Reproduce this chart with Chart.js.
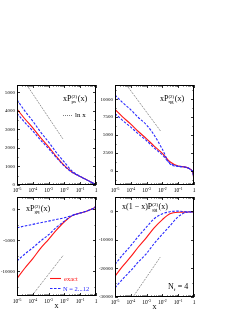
<!DOCTYPE html>
<html>
<head>
<meta charset="utf-8">
<script src="https://cdn.jsdelivr.net/npm/chart.js@4.4.1/dist/chart.umd.min.js"></script>
<style>
  html, body { margin: 0; padding: 0; background: #fff; }
  body { width: 241px; height: 312px; position: relative; overflow: hidden; }
  canvas { position: absolute; }
</style>
</head>
<body>
<canvas id="ps" width="100" height="116" style="left:0;top:80px"></canvas>
<canvas id="qg" width="100" height="116" style="left:98px;top:80px"></canvas>
<canvas id="gq" width="100" height="120" style="left:0;top:192px"></canvas>
<canvas id="gg" width="100" height="120" style="left:98px;top:192px"></canvas>
<script>
// x values shared by all curves
const xGrid = [1e-5, 3e-5, 1e-4, 3e-4, 1e-3, 3e-3, 0.01, 0.03, 0.1, 0.3, 0.6, 0.9, 1];

// xP_ps
const psExact = [4100, 3590, 3080, 2570, 2060, 1550, 1045, 700, 460, 250, 120, 30, 0];
const psUpper = [4600, 4020, 3450, 2880, 2320, 1770, 1230, 760, 470, 250, 120, 30, 0];
const psLower = [3870, 3395, 2920, 2445, 1970, 1495, 1025, 690, 455, 245, 118, 30, 0];
const psLnAt = [5e-5, 8e-3];
const psLn = [5300, 2490];
const psTicks = [0, 1000, 2000, 3000, 4000, 5000];

// xP_qg
const qgExact = [8570, 7540, 6520, 5490, 4470, 3450, 2420, 1250, 650, 500, 180, -550, -1950];
const qgUpper = [10600, 9550, 8520, 7450, 6400, 5000, 3000, 950, 600, 480, 180, -550, -1950];
const qgLower = [8000, 7050, 6100, 5150, 4200, 3200, 2200, 1050, 630, 490, 180, -550, -1950];
const qgLnAt = [5.6e-5, 7.6e-3];
const qgLn = [11950, 5560];
const qgTicks = [0, 2500, 5000, 7500, 10000];

// xP_gq
const gqExact = [-11180, -9550, -7950, -6350, -4850, -3400, -2000, -1050, -600, -220, 100, 400, 600];
const gqUpper = [-2960, -2700, -2430, -2160, -1900, -1630, -1350, -1000, -600, -220, 100, 400, 600];
const gqLower = [-8330, -7250, -6200, -5150, -4100, -2950, -1900, -1000, -600, -220, 100, 400, 600];
const gqLnAt = [8.5e-5, 8.5e-3];
const gqLn = [-14000, -7420];
const gqTicks = [-10000, -5000, 0];

// x(1-x)P_gg
const ggExact = [-22700, -19300, -15900, -12500, -9100, -5800, -2900, -900, -350, -300, -250, -250, -250];
const ggUpper = [-18600, -15320, -12040, -8760, -5480, -2600, -900, -150, 50, -150, -200, -250, -250];
const ggLower = [-26780, -23770, -20760, -17750, -14740, -11300, -8000, -5100, -1900, -400, -250, -250, -250];
const ggLnAt = [1.5e-4, 7.6e-3];
const ggLn = [-29700, -15900];
const ggTicks = [-30000, -20000, -10000, 0];

const SERIF = '"Liberation Serif", "DejaVu Serif", serif';
const RED = 'rgb(255,20,20)';
const BLUE = 'rgb(40,40,255)';

function line(xs, ys, color, dash, width) {
  return {
    data: xs.map((x, i) => ({ x: x, y: ys[i] })),
    borderColor: color,
    borderDash: dash,
    borderWidth: width,
    pointRadius: 0,
    fill: false,
    cubicInterpolationMode: 'monotone'
  };
}

// text with sub/superscript: xP_sub^sup(x)
function richLabel(ctx, x, y, size, pre, sub, sup, post) {
  ctx.font = size + 'px ' + SERIF;
  ctx.textAlign = 'left';
  ctx.fillText(pre, x, y);
  x += ctx.measureText(pre).width;
  const s = size * 0.62;
  ctx.font = s + 'px ' + SERIF;
  let w = 0;
  if (sup) { ctx.fillText(sup, x, y - size * 0.42); w = ctx.measureText(sup).width; }
  if (sub) { ctx.fillText(sub, x, y + size * 0.22); w = Math.max(w, ctx.measureText(sub).width); }
  x += w + 0.5;
  ctx.font = size + 'px ' + SERIF;
  if (post) ctx.fillText(post, x, y);
}

const framePlugin = {
  id: 'frame',
  afterDatasetsDraw(chart, args, o) {
    const ctx = chart.ctx, a = chart.chartArea;
    const xs = chart.scales.x, ys = chart.scales.y;
    ctx.save();
    ctx.strokeStyle = '#000';
    ctx.lineWidth = 1;
    ctx.strokeRect(a.left + 0.5, a.top + 0.5, a.right - a.left - 1, a.bottom - a.top - 1);
    ctx.beginPath();
    ctx.lineWidth = 0.8;
    for (let e = -5; e <= 0; e++) {
      for (let m = 1; m < 10; m++) {
        const v = m * Math.pow(10, e);
        if (v > 1) break;
        const px = Math.round(xs.getPixelForValue(v)) + 0.5;
        const len = m === 1 ? 3 : 1.5;
        ctx.moveTo(px, a.bottom); ctx.lineTo(px, a.bottom - len);
        ctx.moveTo(px, a.top); ctx.lineTo(px, a.top + len);
      }
    }
    const vals = ys.ticks.map(t => t.value);
    const half = (vals[1] - vals[0]) / 2;
    for (let v = Math.ceil(ys.min / half) * half; v <= ys.max; v += half) {
      const py = Math.round(ys.getPixelForValue(v)) + 0.5;
      const len = vals.includes(v) ? 3 : 1.5;
      ctx.moveTo(a.left, py); ctx.lineTo(a.left + len, py);
      ctx.moveTo(a.right, py); ctx.lineTo(a.right - len, py);
    }
    ctx.stroke();

    // x tick labels 10^-5 ... 1
    ctx.fillStyle = '#000';
    ctx.textBaseline = 'alphabetic';
    for (let e = -5; e <= 0; e++) {
      const px = xs.getPixelForValue(Math.pow(10, e));
      const by = a.bottom + 7;
      ctx.font = '5.5px ' + SERIF;
      if (e === 0) {
        ctx.textAlign = 'center';
        ctx.fillText('1', px, by);
        continue;
      }
      const w1 = ctx.measureText('10').width;
      ctx.font = '3.8px ' + SERIF;
      const sup = '-' + (-e);
      const w2 = ctx.measureText(sup).width;
      const x0 = px - (w1 + w2) / 2;
      ctx.textAlign = 'left';
      ctx.font = '5.5px ' + SERIF;
      ctx.fillText('10', x0, by);
      ctx.font = '3.8px ' + SERIF;
      ctx.fillText(sup, x0 + w1, by - 2.5);
    }

    const t = o.title;
    if (t) richLabel(ctx, a.left + t.dx, a.top + t.dy, 8, t.pre, t.sub, t.sup, t.post);
    if (o.extra) o.extra(ctx, a);
    if (o.xTitle) {
      ctx.font = '8px ' + SERIF;
      ctx.textAlign = 'center';
      ctx.fillStyle = '#000';
      ctx.fillText('x', (a.left + a.right) / 2, a.bottom + 12);
    }
    ctx.restore();
  }
};

function makeChart(id, exact, upper, lower, lnAt, ln, yMin, yMax, yTicks, xH, title, extra, xTitle) {
  new Chart(document.getElementById(id), {
    type: 'line',
    data: {
      datasets: [
        line(xGrid, upper, BLUE, [2.5, 1.5], 1.1),
        line(xGrid, lower, BLUE, [2.5, 1.5], 1.1),
        line(xGrid, exact, RED, [], 1.1),
        line(lnAt, ln, '#333', [0.8, 1.2], 0.8)
      ]
    },
    options: {
      responsive: false,
      animation: false,
      devicePixelRatio: 1,
      layout: { padding: { top: 5, right: 4, left: 0, bottom: 0 } },
      plugins: {
        legend: { display: false },
        tooltip: { enabled: false },
        frame: { title: title, extra: extra, xTitle: xTitle }
      },
      scales: {
        x: {
          type: 'logarithmic',
          min: 1e-5,
          max: 1,
          ticks: { display: false },
          grid: { display: false, drawTicks: false },
          border: { display: false },
          afterFit(s) { s.height = xH; }
        },
        y: {
          type: 'linear',
          min: yMin,
          max: yMax,
          afterBuildTicks(s) { s.ticks = yTicks.map(v => ({ value: v })); },
          ticks: {
            padding: 2,
            color: '#000',
            font: { size: 5, family: SERIF },
            callback: v => String(v)
          },
          grid: { display: false, drawTicks: false },
          border: { display: false },
          afterFit(s) { s.width = 17; }
        }
      }
    },
    plugins: [framePlugin]
  });
}

makeChart('ps', psExact, psUpper, psLower, psLnAt, psLn, 0, 5400, psTicks, 11,
  { dx: 46, dy: 16, pre: 'xP', sub: 'ps', sup: '(2)', post: '(x)' },
  function (ctx, a) {
    ctx.strokeStyle = '#333';
    ctx.lineWidth = 0.8;
    ctx.setLineDash([0.8, 1.2]);
    ctx.beginPath();
    ctx.moveTo(a.left + 46, a.top + 30.5);
    ctx.lineTo(a.left + 55, a.top + 30.5);
    ctx.stroke();
    ctx.setLineDash([]);
    ctx.font = '7px ' + SERIF;
    ctx.textAlign = 'left';
    ctx.fillStyle = '#000';
    ctx.fillText('ln x', a.left + 58, a.top + 32);
  }, false);

makeChart('qg', qgExact, qgUpper, qgLower, qgLnAt, qgLn, -2000, 12000, qgTicks, 11,
  { dx: 45, dy: 16, pre: 'xP', sub: 'qg', sup: '(2)', post: '(x)' }, null, false);

makeChart('gq', gqExact, gqUpper, gqLower, gqLnAt, gqLn, -14000, 2000, gqTicks, 16,
  { dx: 9, dy: 14, pre: 'xP', sub: 'gq', sup: '(2)', post: '(x)' },
  function (ctx, a) {
    ctx.lineWidth = 1.1;
    ctx.strokeStyle = RED;
    ctx.beginPath();
    ctx.moveTo(a.left + 33, a.top + 81.5);
    ctx.lineTo(a.left + 44, a.top + 81.5);
    ctx.stroke();
    ctx.strokeStyle = BLUE;
    ctx.setLineDash([2.5, 1.5]);
    ctx.beginPath();
    ctx.moveTo(a.left + 33, a.top + 91.5);
    ctx.lineTo(a.left + 44, a.top + 91.5);
    ctx.stroke();
    ctx.setLineDash([]);
    ctx.font = '6.5px ' + SERIF;
    ctx.textAlign = 'left';
    ctx.fillStyle = RED;
    ctx.fillText('exact', a.left + 47, a.top + 84);
    ctx.fillStyle = BLUE;
    ctx.fillText('N = 2...12', a.left + 46, a.top + 94);
  }, true);

makeChart('gg', ggExact, ggUpper, ggLower, ggLnAt, ggLn, -30000, 5000, ggTicks, 15,
  { dx: 7, dy: 12, pre: 'x(1 \u2212 x)P', sub: 'gg', sup: '(2)', post: '(x)' },
  function (ctx, a) {
    ctx.fillStyle = '#000';
    ctx.textAlign = 'left';
    ctx.font = '8px ' + SERIF;
    ctx.fillText('N', a.left + 53, a.top + 92);
    const w = ctx.measureText('N').width;
    ctx.font = '5px ' + SERIF;
    ctx.fillText('f', a.left + 53 + w, a.top + 94);
    ctx.font = '8px ' + SERIF;
    ctx.fillText(' = 4', a.left + 55 + w, a.top + 92);
  }, true);
</script>
</body>
</html>
